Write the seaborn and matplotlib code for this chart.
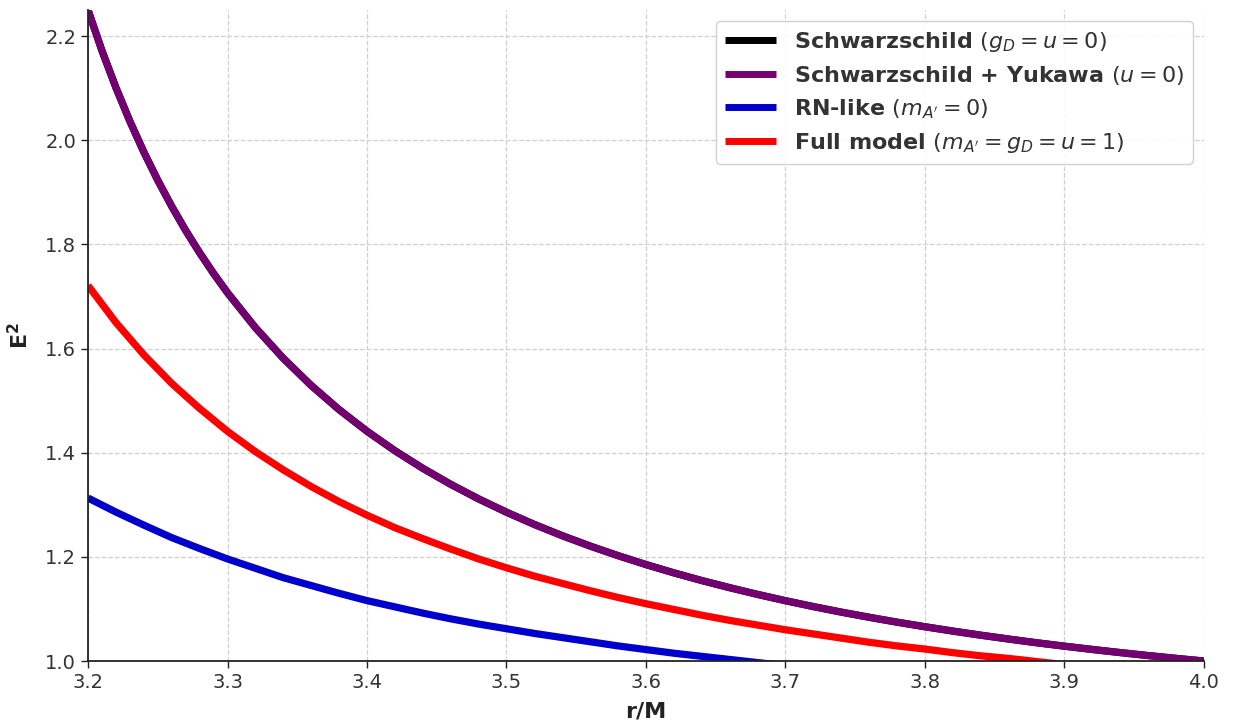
import numpy as np
import pandas as pd
import seaborn as sns
import matplotlib.pyplot as plt

# Orbital radius samples (r/M) for the Schwarzschild-type curves
r_schw = [3.20, 3.21, 3.22, 3.23, 3.24, 3.25, 3.26, 3.27, 3.28, 3.29, 3.30,
          3.32, 3.34, 3.36, 3.38, 3.40, 3.42, 3.44, 3.46, 3.48, 3.50,
          3.52, 3.54, 3.56, 3.58, 3.60, 3.62, 3.64, 3.66, 3.68, 3.70,
          3.72, 3.74, 3.76, 3.78, 3.80, 3.82, 3.84, 3.86, 3.88, 3.90,
          3.92, 3.94, 3.96, 3.98, 4.00]

# Schwarzschild (g_D = u = 0)
e2_schw = [2.2500, 2.1719, 2.1011, 2.0365, 1.9774, 1.9231, 1.8731, 1.8268, 1.7840, 1.7442, 1.7071,
           1.6401, 1.5812, 1.5291, 1.4827, 1.4412, 1.4038, 1.3700, 1.3393, 1.3113, 1.2857,
           1.2622, 1.2406, 1.2207, 1.2023, 1.1852, 1.1693, 1.1545, 1.1408, 1.1279, 1.1158,
           1.1045, 1.0939, 1.0840, 1.0746, 1.0658, 1.0575, 1.0496, 1.0422, 1.0351, 1.0285,
           1.0222, 1.0162, 1.0105, 1.0051, 1.0000]

# Schwarzschild + Yukawa (u = 0): lies on top of the Schwarzschild curve
e2_yukawa = [2.2500, 2.1719, 2.1011, 2.0365, 1.9774, 1.9231, 1.8731, 1.8268, 1.7840, 1.7442, 1.7071,
             1.6401, 1.5812, 1.5291, 1.4827, 1.4412, 1.4038, 1.3700, 1.3393, 1.3113, 1.2857,
             1.2622, 1.2406, 1.2207, 1.2023, 1.1852, 1.1693, 1.1545, 1.1408, 1.1279, 1.1158,
             1.1045, 1.0939, 1.0840, 1.0746, 1.0658, 1.0575, 1.0496, 1.0422, 1.0351, 1.0285,
             1.0222, 1.0162, 1.0105, 1.0051, 1.0000]

# Radius samples for the charged / full-model curves
r_grid = [3.20, 3.22, 3.24, 3.26, 3.28, 3.30, 3.32, 3.34, 3.36, 3.38,
          3.40, 3.42, 3.44, 3.46, 3.48, 3.50, 3.52, 3.54, 3.56, 3.58,
          3.60, 3.62, 3.64, 3.66, 3.68, 3.70, 3.72, 3.74, 3.76, 3.78,
          3.80, 3.82, 3.84, 3.86, 3.88, 3.90]

# Full model (m_A' = g_D = u = 1)
e2_full = [1.721, 1.650, 1.588, 1.533, 1.485, 1.441, 1.402, 1.367, 1.335, 1.306,
           1.280, 1.256, 1.235, 1.215, 1.196, 1.179, 1.163, 1.149, 1.135, 1.122,
           1.110, 1.099, 1.088, 1.078, 1.069, 1.060, 1.052, 1.044, 1.036, 1.029,
           1.023, 1.016, 1.010, 1.005, 0.999, 0.993]

# RN-like (m_A' = 0)
r_rn = r_grid[:27]
e2_rn = [1.313, 1.286, 1.261, 1.237, 1.216, 1.196, 1.178, 1.160, 1.145, 1.130,
         1.116, 1.104, 1.092, 1.081, 1.071, 1.062, 1.053, 1.045, 1.037, 1.029,
         1.022, 1.015, 1.009, 1.003, 0.997, 0.991, 0.985]

x_ticks = [3.2, 3.3, 3.4, 3.5, 3.6, 3.7, 3.8, 3.9, 4.0]
y_ticks = [1.0, 1.2, 1.4, 1.6, 1.8, 2.0, 2.2]

labels = [
    r"Schwarzschild $(g_D = u = 0)$",
    r"Schwarzschild + Yukawa $(u = 0)$",
    r"RN-like $(m_{A'} = 0)$",
    r"Full model $(m_{A'} = g_D = u = 1)$",
]
colors = ["black", "#720070", "#0000cc", "#ff0000"]

sns.set_theme(style="whitegrid")
plt.rcParams.update({
    "font.family": ["DejaVu Sans"],
    "mathtext.fontset": "dejavusans",
    "text.color": "#333333",
    "xtick.color": "#222222",
    "ytick.color": "#222222",
    "xtick.labelcolor": "#333333",
    "ytick.labelcolor": "#333333",
})

fig = plt.figure(figsize=(12.43, 7.26), dpi=100)
ax = fig.add_axes([0.0708, 0.0895, 0.8978, 0.8967])

series = [
    (r_schw, e2_schw),
    (r_schw, e2_yukawa),
    (r_rn, e2_rn),
    (r_grid, e2_full),
]
for (xs, ys), lab, col in zip(series, labels, colors):
    df = pd.DataFrame({"r": xs, "E2": ys})
    sns.lineplot(data=df, x="r", y="E2", ax=ax, color=col, linewidth=5.2,
                 label=lab, sort=False, solid_joinstyle="round",
                 solid_capstyle="butt")

ax.set_xlim(3.2, 4.0)
ax.set_ylim(1.0, 2.25)
ax.set_xticks(x_ticks)
ax.set_yticks(y_ticks)
ax.set_xticklabels([f"{v:.1f}" for v in x_ticks])
ax.set_yticklabels([f"{v:.1f}" for v in y_ticks])
ax.tick_params(axis="both", labelsize=14, direction="out", length=5, width=1,
               bottom=True, left=True)

ax.grid(True, linestyle="--", color="#d0d0d0", linewidth=0.9)
sns.despine(ax=ax, top=True, right=True)
for side in ("left", "bottom"):
    ax.spines[side].set_color("#222222")
    ax.spines[side].set_linewidth(1.3)

ax.set_xlabel("r/M", fontsize=16, fontweight="bold", color="#222222", labelpad=7)
ax.set_ylabel(r"$\mathbf{E^2}$", fontsize=16, color="#222222", labelpad=9)

leg = ax.legend(loc="upper right", prop={"weight": "bold", "size": 16},
                frameon=True, fancybox=True, framealpha=0.9,
                edgecolor="#cccccc", handlelength=2.3, labelspacing=0.45)
for line in leg.get_lines():
    line.set_linewidth(5)

fig.savefig("out.png", dpi=100)
